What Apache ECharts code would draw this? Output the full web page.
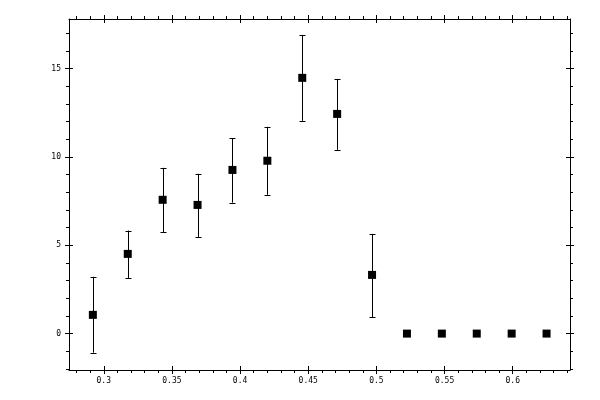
<!DOCTYPE html>
<html>
<head>
<meta charset="utf-8">
<script src="https://cdn.jsdelivr.net/npm/echarts@6/dist/echarts.min.js"></script>
<style>html,body{margin:0;padding:0;background:#fff}#c{width:600px;height:400px}</style>
</head>
<body>
<div id="c"></div>
<script>
// ---- data ----
const xValues = [0.292, 0.3176, 0.3432, 0.3688, 0.3944, 0.42, 0.4456, 0.4712, 0.4968, 0.5224, 0.548, 0.5736, 0.5992, 0.6248];
const yValues = [1.06, 4.51, 7.57, 7.28, 9.26, 9.78, 14.47, 12.43, 3.32, 0, 0, 0, 0, 0];
const errLow  = [-1.08, 3.15, 5.75, 5.47, 7.41, 7.85, 12.04, 10.40, 0.94, null, null, null, null, null];
const errHigh = [3.21, 5.83, 9.38, 9.04, 11.05, 11.70, 16.90, 14.41, 5.64, null, null, null, null, null];

const xMajorTicks = [0.3, 0.35, 0.4, 0.45, 0.5, 0.55, 0.6];
const xMinorTicks = [0.28, 0.29, 0.30, 0.31, 0.32, 0.33, 0.34, 0.35, 0.36, 0.37, 0.38, 0.39, 0.40, 0.41, 0.42, 0.43, 0.44, 0.45, 0.46, 0.47, 0.48, 0.49, 0.50, 0.51, 0.52, 0.53, 0.54, 0.55, 0.56, 0.57, 0.58, 0.59, 0.60, 0.61, 0.62, 0.63, 0.64];
const yMajorTicks = [0, 5, 10, 15];
const yMinorTicks = [-2, -1, 0, 1, 2, 3, 4, 5, 6, 7, 8, 9, 10, 11, 12, 13, 14, 15, 16, 17];

const xRange = [0.2745, 0.642];
const yRange = [-2.06, 17.8];

const scatterData = xValues.map((x, i) => [x, yValues[i]]);
const errData = [];
xValues.forEach((x, i) => { if (errLow[i] !== null) errData.push([x, errLow[i], errHigh[i]]); });

const black = '#000';
const labelFont = { fontFamily: 'DejaVu Sans Mono', fontSize: 8, color: black };

function axis(kind, position, opt) {
  return {
    type: 'value',
    position: position,
    min: kind === 'x' ? xRange[0] : yRange[0],
    max: kind === 'x' ? xRange[1] : yRange[1],
    splitLine: { show: false },
    axisLine: { show: !!opt.line, onZero: false, lineStyle: { color: black, width: 1 } },
    axisTick: {
      show: true, inside: !!opt.inside, length: opt.len,
      customValues: opt.ticks, lineStyle: { color: black, width: 1 }
    },
    axisLabel: opt.labels ? Object.assign({ show: true, customValues: opt.labels, margin: opt.margin }, labelFont) : { show: false }
  };
}

const xAxes = [
  axis('x', 'bottom', { line: true, ticks: xMajorTicks, len: 4, labels: xMajorTicks, margin: 7 }),
  axis('x', 'bottom', { ticks: xMajorTicks, len: 4, inside: true }),
  axis('x', 'bottom', { ticks: xMinorTicks, len: 3 }),
  axis('x', 'top', { line: true, ticks: xMajorTicks, len: 4 }),
  axis('x', 'top', { ticks: xMajorTicks, len: 4, inside: true }),
  axis('x', 'top', { ticks: xMinorTicks, len: 3 })
];
const yAxes = [
  axis('y', 'left', { line: true, ticks: yMajorTicks, len: 4, labels: yMajorTicks, margin: 8 }),
  axis('y', 'left', { ticks: yMajorTicks, len: 4, inside: true }),
  axis('y', 'left', { ticks: yMinorTicks, len: 3 }),
  axis('y', 'right', { line: true, ticks: yMajorTicks, len: 4 }),
  axis('y', 'right', { ticks: yMajorTicks, len: 4, inside: true }),
  axis('y', 'right', { ticks: yMinorTicks, len: 3 })
];

function renderErr(params, api) {
  const x = api.value(0), lo = api.value(1), hi = api.value(2);
  const pHi = api.coord([x, hi]);
  const pLo = api.coord([x, lo]);
  const cx = Math.round(pHi[0]) + 0.5;
  const w = 3;
  const st = { stroke: black, lineWidth: 1 };
  return {
    type: 'group',
    children: [
      { type: 'line', shape: { x1: cx, y1: pHi[1], x2: cx, y2: pLo[1] }, style: st },
      { type: 'line', shape: { x1: cx - w, y1: Math.round(pHi[1]) + 0.5, x2: cx + w, y2: Math.round(pHi[1]) + 0.5 }, style: st },
      { type: 'line', shape: { x1: cx - w, y1: Math.round(pLo[1]) + 0.5, x2: cx + w, y2: Math.round(pLo[1]) + 0.5 }, style: st }
    ]
  };
}

const chart = echarts.init(document.getElementById('c'), null, { renderer: 'canvas' });
chart.setOption({
  animation: false,
  backgroundColor: '#fff',
  grid: { left: 69, right: 30, top: 19, bottom: 30, containLabel: false },
  xAxis: xAxes,
  yAxis: yAxes,
  series: [
    {
      type: 'custom',
      xAxisIndex: 0, yAxisIndex: 0,
      renderItem: renderErr,
      data: errData,
      encode: { x: 0, y: [1, 2] },
      z: 1
    },
    {
      type: 'scatter',
      xAxisIndex: 0, yAxisIndex: 0,
      symbol: 'rect',
      symbolSize: 8,
      itemStyle: { color: black, opacity: 1 },
      data: scatterData,
      z: 2
    }
  ]
});
</script>
</body>
</html>
